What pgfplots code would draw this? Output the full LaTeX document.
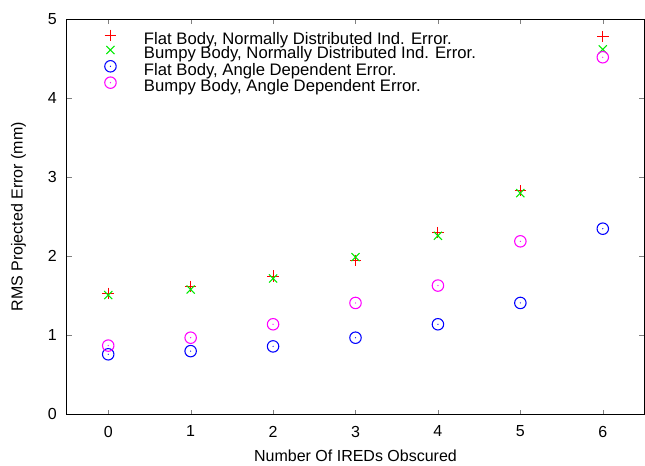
\documentclass[border=0pt]{standalone}
\usepackage{pgfplots}
\pgfplotsset{compat=1.18}
\usepackage{fontspec}
\setmainfont{Liberation Sans}
\definecolor{cred}{RGB}{255,0,0}
\definecolor{cgreen}{RGB}{0,235,0}
\definecolor{cblue}{RGB}{0,0,255}
\definecolor{cmag}{RGB}{255,0,255}
\pgfdeclareplotmark{odot}{%
  \pgfpathcircle{\pgfpoint{0pt}{0pt}}{\pgfplotmarksize}\pgfusepathqstroke
  \pgfpathcircle{\pgfpoint{0pt}{0pt}}{0.5pt}\pgfusepathqfill}
\begin{document}
\begin{tikzpicture}
\begin{axis}[
  scale only axis,
  width=432.75pt, height=296.25pt,
  xmin=-0.5, xmax=6.5, ymin=0, ymax=5,
  xtick={0,1,2,3,4,5,6}, ytick={0,1,2,3,4,5},
  tick align=inside, tick pos=both,
  major tick length=3.5pt,
  font=\fontsize{12}{14}\selectfont,
  /pgf/number format/assume math mode=true,
  yticklabel style={xshift=-4.2pt},
  xticklabel style={yshift=-5.2pt},
  xlabel={Number Of IREDs Obscured},
  ylabel={RMS Projected Error (mm)},
  every axis x label/.style={at={(axis description cs:0.5,-0.1046)}, anchor=center},
  every axis y label/.style={at={(axis description cs:-0.0841,0.5)}, rotate=90, anchor=center},
  axis line style={line width=0.75pt},
  legend cell align=left,
  legend style={draw=none, fill=none, inner sep=0pt,
    at={(axis description cs:0,1)}, anchor=north west, xshift=26pt, yshift=-7.5pt,
    font=\fontsize{12.5}{14}\selectfont,
    nodes={inner sep=0pt, text height=9pt, text depth=3.5pt},
    column sep=18.75pt, row sep=-2.3pt},
  legend image code/.code={\draw[#1] plot coordinates {(0pt,4pt)}; \path (-6pt,0pt) (6pt,0pt);},
]
\addplot[only marks, cred, mark=+, mark size=4.3pt, line width=0.8pt] coordinates {
(0,1.53) (1,1.62) (2,1.75) (3,1.95) (4,2.30) (5,2.83) (6,4.78)};
\addlegendentry{Flat Body, Normally Distributed Ind. Error.}
\addplot[only marks, cgreen, mark=x, mark size=4.3pt, line width=0.8pt] coordinates {
(0,1.51) (1,1.58) (2,1.72) (3,1.99) (4,2.26) (5,2.80) (6,4.62)};
\addlegendentry{Bumpy Body, Normally Distributed Ind. Error.}
\addplot[only marks, cblue, mark=odot, mark size=4.3pt, line width=0.8pt, mark options={fill=cblue}] coordinates {
(0,0.76) (1,0.80) (2,0.86) (3,0.97) (4,1.14) (5,1.41) (6,2.35)};
\addlegendentry{Flat Body, Angle Dependent Error.}
\addplot[only marks, cmag, mark=odot, mark size=4.3pt, line width=0.8pt, mark options={fill=cmag}] coordinates {
(0,0.87) (1,0.97) (2,1.14) (3,1.41) (4,1.63) (5,2.19) (6,4.52)};
\addlegendentry{Bumpy Body, Angle Dependent Error.}
\end{axis}
\path (current axis.south west) ++(-50.25pt,-37.3pt) coordinate (bl);
\path (current axis.north east) ++(0.75pt,14.5pt) coordinate (tr);
\useasboundingbox (bl) rectangle (tr);
\end{tikzpicture}
\end{document}
